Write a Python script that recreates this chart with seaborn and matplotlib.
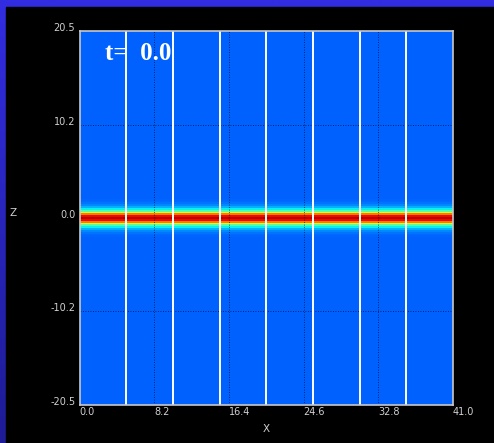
import numpy as np
import pandas as pd
import matplotlib
matplotlib.use("Agg")
import matplotlib.pyplot as plt
from matplotlib.patches import Rectangle
import seaborn as sns

# ---- data ----
x_ticks = [0.0, 8.2, 16.4, 24.6, 32.8, 41.0]
z_ticks = [-20.5, -10.2, 0.0, 10.2, 20.5]
x_range = (0.0, 41.0)
z_range = (-20.5, 20.5)
partition_lines = [5.125, 10.25, 15.375, 20.5, 25.625, 30.75, 35.875]  # white vertical lines
# band profile (colour value 0..1 on jet) at z = -2.0 ... 2.0 step 0.2
band_z = [-2.0, -1.8, -1.6, -1.4, -1.2, -1.0, -0.8, -0.6, -0.4, -0.2, 0.0,
          0.2, 0.4, 0.6, 0.8, 1.0, 1.2, 1.4, 1.6, 1.8, 2.0]
band_v = [0.225, 0.23, 0.24, 0.26, 0.30, 0.36, 0.45, 0.60, 0.78, 0.90, 0.95,
          0.90, 0.78, 0.60, 0.45, 0.36, 0.30, 0.26, 0.24, 0.23, 0.225]
background_v = 0.22
time_label = "t=  0.0"

# ---- grid ----
dz, dx = 0.2, 0.5
nz = int(round((z_range[1] - z_range[0]) / dz))
nx = int(round((x_range[1] - x_range[0]) / dx))
z_centers = np.round(z_range[1] - dz / 2 - dz * np.arange(nz), 3)  # top -> bottom
x_centers = x_range[0] + dx / 2 + dx * np.arange(nx)
lookup = {round(z, 3): v for z, v in zip(band_z, band_v)}
col = np.array([lookup.get(round(z, 3), background_v) for z in z_centers])
field = pd.DataFrame(np.tile(col[:, None], (1, nx)), index=z_centers, columns=x_centers)

def xpos(x):
    return (x - x_range[0]) / dx

def zpos(z):
    return (z_range[1] - z) / dz

W, H = 494, 443
fig = plt.figure(figsize=(W / 100, H / 100), dpi=100)
fig.patch.set_facecolor("black")

# blue frame (gradient) at top/left
bg = fig.add_axes([0, 0, 1, 1])
grad = np.linspace(0, 1, 256)[:, None]
top = np.array([50, 45, 225]) / 255
bot = np.array([30, 28, 150]) / 255
img = top[None, None, :] * (1 - grad[:, :, None]) + bot[None, None, :] * grad[:, :, None]
bg.imshow(img, aspect="auto", extent=[0, 1, 0, 1])
bg.add_patch(Rectangle((6 / W, 0), 1, 1 - 7 / H, color="black"))
bg.set_xlim(0, 1); bg.set_ylim(0, 1)
bg.axis("off")

ax = fig.add_axes([79.5 / W, (H - 405) / H, (453 - 79.5) / W, (405 - 31) / H])
sns.heatmap(field, cmap="jet", vmin=0, vmax=1, cbar=False, ax=ax,
            xticklabels=False, yticklabels=False, rasterized=True)

# dotted grid lines
for xt in x_ticks[1:-1]:
    ax.axvline(xpos(xt), color="black", ls=(0, (1, 2)), lw=0.6, alpha=0.8)
for zt in [10.2, -10.2]:
    ax.axhline(zpos(zt), color="black", ls=(0, (1, 2)), lw=0.6, alpha=0.8)
# white partition lines
for xl in partition_lines:
    ax.axvline(xpos(xl), color="white", lw=1.4)

ax.set_xticks([xpos(v) for v in x_ticks])
ax.set_xticklabels([f"{v:.1f}" for v in x_ticks], ha="left")
ax.set_yticks([zpos(v) for v in z_ticks])
ax.set_yticklabels([f"{v:.1f}" for v in z_ticks], va="baseline")
ax.tick_params(axis="x", length=0, colors="#d0d0d0", labelsize=7, pad=1.5)
ax.tick_params(axis="y", length=0, colors="#d0d0d0", labelsize=7, pad=3)
ax.set_xlabel("X", color="#d0d0d0", fontsize=7.5, labelpad=5)
ax.set_ylabel("Z", color="#d0d0d0", fontsize=7.5, rotation=0, labelpad=0)
ax.yaxis.set_label_coords(-0.178, 0.5)
for s in ax.spines.values():
    s.set_visible(True)
    s.set_color("#c8c8c8")
    s.set_linewidth(1.2)

ax.text(0.068, 0.94, time_label, transform=ax.transAxes, color="white",
        fontsize=18, fontweight="bold", family="Liberation Serif", va="center", ha="left")

fig.savefig("out.png", dpi=100, facecolor=fig.get_facecolor())
